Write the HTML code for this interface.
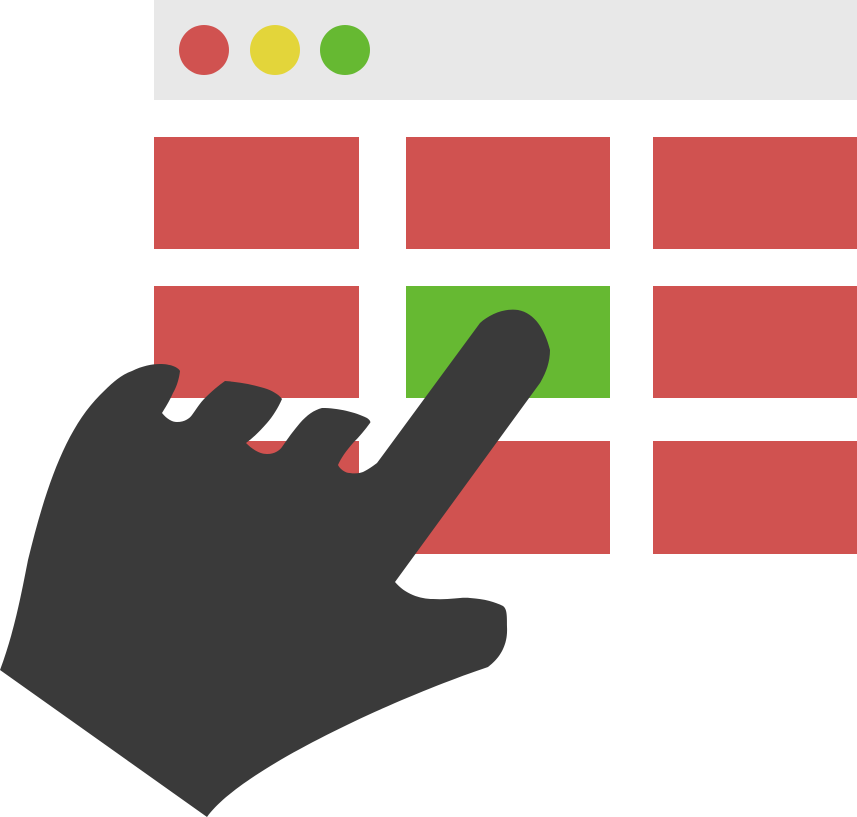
<!DOCTYPE html>
<html><head><style>html,body{margin:0;padding:0;background:#fff}svg{display:block}</style></head>
<body>
<svg width="857" height="817" viewBox="0 0 857 817" xmlns="http://www.w3.org/2000/svg">
<rect x="154" y="0" width="703" height="100" fill="#e8e8e8"/>
<circle cx="204" cy="50" r="25" fill="#d05250"/>
<circle cx="275" cy="50" r="25" fill="#e3d53a"/>
<circle cx="345" cy="50" r="25" fill="#66b932"/>
<g fill="#d05250">
<rect x="154" y="137" width="205" height="112"/>
<rect x="406" y="137" width="204" height="112"/>
<rect x="653" y="137" width="204" height="112"/>
<rect x="154" y="286" width="205" height="112"/>
<rect x="653" y="286" width="204" height="112"/>
<rect x="154" y="441" width="205" height="113"/>
<rect x="406" y="441" width="204" height="113"/>
<rect x="653" y="441" width="204" height="113"/>
</g>
<rect x="406" y="286" width="204" height="112" fill="#66b932"/>
<path fill="#3a3a3a" d="M480,323 C490,314 505,308 518,310 C535,313 545,330 550,350 C550,362 546,373 540,383 L395,582
C405,594 420,599 433,599 C450,600 460,597 470,598 C485,599 495,602 503,606 C507,609 507,615 507,627 C508,645 500,658 488,667
C390,700 240,770 207,817 L0,670 C15,630 22,590 28,560 C45,490 65,430 100,395 C110,385 120,375 132,371
C142,366 152,364 160,364 C170,364 178,367 180,371 C179,380 176,388 173,393 C169,402 165,408 162,413 C167,419 172,422 177,422
C185,422 190,418 192,415 C197,408 200,403 205,398 C212,391 218,386 225,381 C240,382 255,385 267,389 C275,392 280,396 282,399
C278,408 273,416 267,423 C260,431 253,438 246,443 C253,450 260,454 267,454 C275,454 280,450 282,447 C288,438 294,430 300,423
C307,415 314,410 322,408 C338,408 355,412 367,418 C370,420 371,422 370,423 C365,430 359,437 353,443 C346,451 341,458 338,465
C340,469 345,473 350,473 C356,474 360,473 363,472 C369,469 373,466 377,463 Z"/>
</svg>
</body></html>
